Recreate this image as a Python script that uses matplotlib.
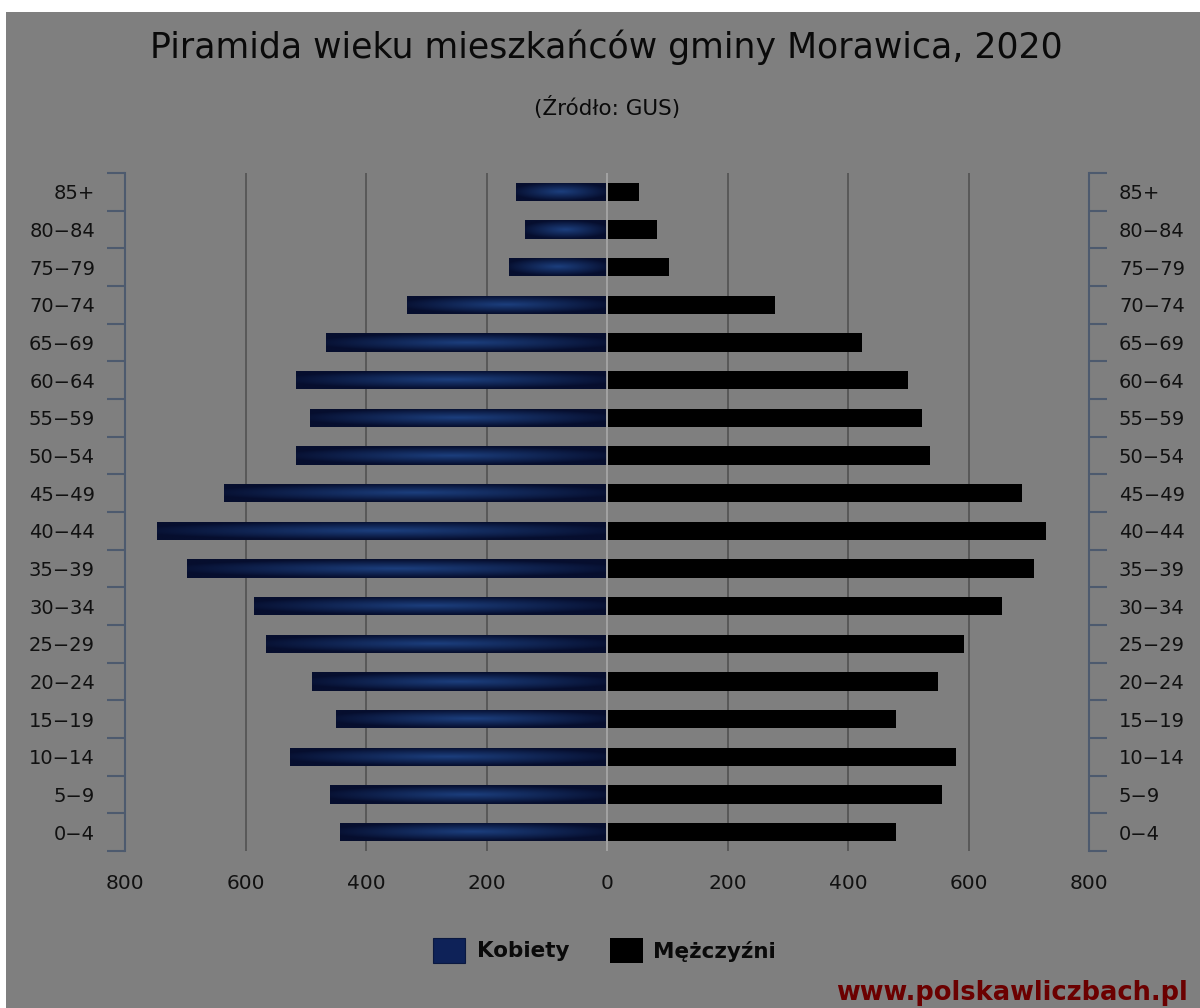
import numpy as np
import matplotlib
matplotlib.use("Agg")
import matplotlib.pyplot as plt
from matplotlib.patches import Rectangle

age_groups = ["0-4", "5-9", "10-14", "15-19", "20-24", "25-29", "30-34", "35-39",
              "40-44", "45-49", "50-54", "55-59", "60-64", "65-69", "70-74",
              "75-79", "80-84", "85+"]
women = [441, 458, 524, 448, 488, 564, 584, 695, 745, 634, 515, 491, 515, 465, 330, 161, 134, 149]
men = [478, 554, 578, 478, 548, 591, 654, 707, 727, 687, 534, 521, 498, 422, 277, 101, 81, 51]
xticks = [-800, -600, -400, -200, 0, 200, 400, 600, 800]
xticklabels = ["800", "600", "400", "200", "0", "200", "400", "600", "800"]

title = "Piramida wieku mieszkańców gminy Morawica, 2020"
subtitle = "(Źródło: GUS)"
legend_labels = ["Kobiety", "Mężczyźni"]
watermark = "www.polskawliczbach.pl"

plt.rcParams['font.family'] = ['DejaVu Sans']

W, H = 1200, 1008
fig = plt.figure(figsize=(W / 100, H / 100), dpi=100, facecolor="white")
bg = "#7f7f7f"
fig.patches.append(Rectangle((6 / W, 0), 1, 1 - 12 / H, transform=fig.transFigure,
                             facecolor=bg, edgecolor="none", zorder=-10))

ax = fig.add_axes([125 / W, 1 - 851 / H, (1089 - 125) / W, (851 - 173) / H])
ax.set_facecolor("none")
n = len(age_groups)
y = np.arange(n)
ax.set_xlim(-800, 800)
ax.set_ylim(-0.5, n - 0.5)

# gridlines
for xv in xticks[1:-1]:
    if xv == 0:
        continue
    ax.axvline(xv, color="#555555", lw=1.3, zorder=1)

# gradient for women's bars
gx = np.linspace(-1, 1, 200)
gy = np.linspace(-1, 1, 40)
GX, GY = np.meshgrid(gx, gy)
R = np.sqrt((GX * 0.9) ** 2 + (GY * 1.0) ** 2)
R = np.clip(R, 0, 1)
c_center = np.array([0x1c, 0x3f, 0x7e]) / 255
c_edge = np.array([0x06, 0x0e, 0x2e]) / 255
img = c_center[None, None, :] * (1 - R[..., None]) + c_edge[None, None, :] * R[..., None]

bh = 0.48
for yi, v in zip(y, women):
    bars = ax.barh(yi, -v, height=bh, left=-2, color=c_edge, edgecolor="none", zorder=2)
    patch = bars.patches[0]
    im = ax.imshow(img, extent=(-v - 2, -2, yi - bh / 2, yi + bh / 2), aspect="auto",
                   zorder=3, interpolation="bilinear")
    im.set_clip_path(patch)
ax.barh(y, men, height=bh, left=2, color="black", edgecolor="none", zorder=2)
ax.axvline(0, color="#a8a8a8", lw=1.2, zorder=4)
ax.set_ylim(-0.5, n - 0.5)
ax.set_xlim(-800, 800)

for s in ["top", "bottom"]:
    ax.spines[s].set_visible(False)
for s in ["left", "right"]:
    ax.spines[s].set_color("#4d5a6e")
    ax.spines[s].set_linewidth(1.5)

ax.set_xticks(xticks)
ax.set_xticklabels(xticklabels, fontsize=14.5, color="#111111")
ax.tick_params(axis="x", length=0, pad=16.5)

display_labels = [g.replace("-", "\u2212") for g in age_groups]
ax.set_yticks(np.arange(n + 1) - 0.5)
ax.set_yticklabels([])
ax.set_yticks(y, minor=True)
ax.set_yticklabels(display_labels, minor=True, fontsize=14, color="#111111")
ax.tick_params(axis="y", which="major", left=True, right=True, length=13, width=1.5,
               color="#4d5a6e", direction="out")
ax.tick_params(axis="y", which="minor", left=False, right=False, length=0,
               labelleft=True, labelright=True, pad=21.6)

fig.text(0.505, 1 - 47 / H, title, ha="center", va="center", fontsize=25, color="#0a0a0a")
fig.text(0.506, 1 - 108 / H, subtitle, ha="center", va="center", fontsize=15.5, color="#0a0a0a")

# legend
fig.patches.append(Rectangle((433 / W, 1 - 963 / H), 32 / W, 25 / H, transform=fig.transFigure,
                             facecolor="#0e2258", edgecolor="#0a1840", lw=0.8))
fig.text(477 / W, 1 - 951 / H, legend_labels[0], ha="left", va="center", fontsize=15.5,
         fontweight="bold", color="#0a0a0a")
fig.patches.append(Rectangle((610 / W, 1 - 963 / H), 33 / W, 25 / H, transform=fig.transFigure,
                             facecolor="black", edgecolor="none"))
fig.text(653 / W, 1 - 951 / H, legend_labels[1], ha="left", va="center", fontsize=15.5,
         fontweight="bold", color="#0a0a0a")

fig.text(1188 / W, 1 - 993 / H, watermark, ha="right", va="center", fontsize=18.5,
         fontweight="bold", color="#6b0000")

fig.savefig("out.png", dpi=100, facecolor="white")
